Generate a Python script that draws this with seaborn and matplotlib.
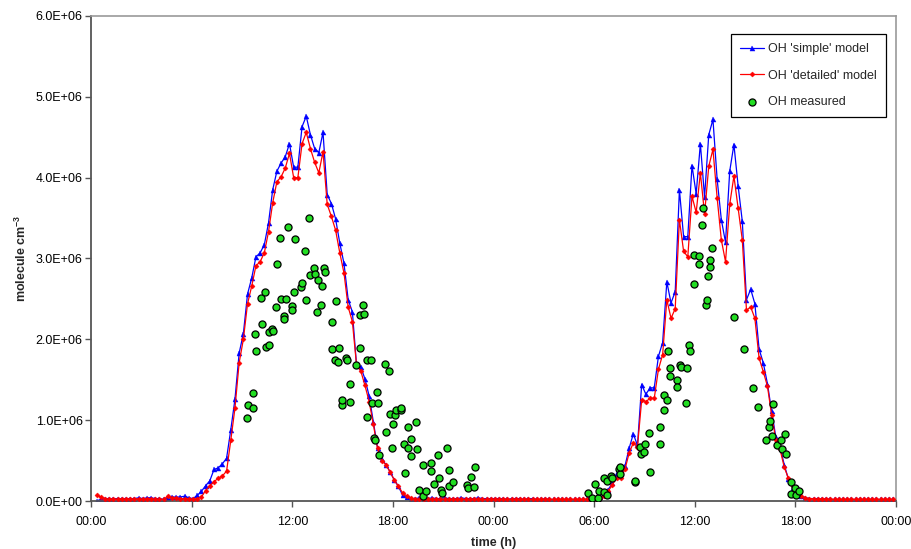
import numpy as np
import matplotlib
matplotlib.use("Agg")
import matplotlib.pyplot as plt
import seaborn as sns
from matplotlib.ticker import FuncFormatter, FixedLocator

# ---------------- data (OH, units of 1e6 molecule cm-3) ----------------
# model output every 15 min, first sample at 00:20 of day 1
model_start_h = 0.333
model_step_h = 0.25

simple_model = [
    0.00, 0.02, 0.03, 0.03, 0.03, 0.03, 0.03, 0.03, 0.03, 0.03,
    0.04, 0.03, 0.04, 0.04, 0.03, 0.03, 0.02, 0.04, 0.05, 0.05,
    0.05, 0.06, 0.04, 0.03, 0.07, 0.12, 0.19, 0.25, 0.39, 0.41,
    0.46, 0.53, 0.88, 1.26, 1.83, 2.07, 2.56, 2.76, 3.02, 3.07,
    3.17, 3.44, 3.85, 4.08, 4.18, 4.26, 4.42, 4.13, 4.13, 4.63,
    4.76, 4.53, 4.36, 4.31, 4.56, 3.79, 3.68, 3.49, 3.19, 2.94,
    2.49, 2.34, 1.68, 1.66, 1.51, 1.30, 0.98, 0.66, 0.52, 0.45,
    0.36, 0.26, 0.18, 0.07, 0.05, 0.03, 0.03, 0.04, 0.03, 0.03,
    0.04, 0.03, 0.03, 0.04, 0.03, 0.03, 0.03, 0.04, 0.03, 0.03,
    0.03, 0.04, 0.03, 0.03, 0.03, 0.03, 0.03, 0.03, 0.02, 0.03,
    0.03, 0.03, 0.02, 0.03, 0.03, 0.02, 0.02, 0.03, 0.02, 0.02,
    0.02, 0.02, 0.02, 0.02, 0.02, 0.02, 0.02, 0.02, 0.01, 0.01,
    0.05, 0.07, 0.14, 0.22, 0.34, 0.38, 0.43, 0.65, 0.83, 0.69,
    1.44, 1.32, 1.40, 1.40, 1.79, 1.96, 2.71, 2.45, 2.59, 3.85,
    3.27, 3.27, 4.15, 3.80, 4.42, 3.76, 4.53, 4.72, 3.98, 3.48,
    3.20, 4.08, 4.41, 3.90, 3.46, 2.49, 2.62, 2.44, 1.88, 1.71,
    1.45, 1.11, 0.79, 0.67, 0.45, 0.27, 0.16, 0.11, 0.06, 0.04,
    0.03, 0.03, 0.03, 0.02, 0.03, 0.02, 0.02, 0.02, 0.02, 0.02,
    0.02, 0.02, 0.02, 0.02, 0.02, 0.02, 0.02, 0.02, 0.02, 0.02, 0.02,
]

detailed_model = [
    0.07, 0.05, 0.03, 0.02, 0.03, 0.02, 0.03, 0.02, 0.03, 0.02,
    0.03, 0.02, 0.03, 0.03, 0.02, 0.02, 0.02, 0.06, 0.04, 0.04,
    0.03, 0.03, 0.03, 0.02, 0.03, 0.05, 0.13, 0.19, 0.24, 0.28,
    0.31, 0.37, 0.75, 1.15, 1.71, 2.00, 2.44, 2.66, 2.91, 2.96,
    3.07, 3.33, 3.69, 3.95, 4.01, 4.12, 4.30, 4.00, 4.00, 4.42,
    4.56, 4.36, 4.19, 4.06, 4.32, 3.67, 3.52, 3.35, 3.07, 2.82,
    2.40, 2.22, 1.68, 1.61, 1.43, 1.23, 0.95, 0.65, 0.50, 0.45,
    0.36, 0.26, 0.18, 0.10, 0.06, 0.04, 0.02, 0.02, 0.02, 0.02,
    0.02, 0.02, 0.02, 0.02, 0.02, 0.02, 0.02, 0.02, 0.02, 0.02,
    0.02, 0.02, 0.02, 0.02, 0.02, 0.02, 0.02, 0.02, 0.02, 0.02,
    0.02, 0.02, 0.02, 0.02, 0.02, 0.02, 0.02, 0.02, 0.02, 0.02,
    0.02, 0.02, 0.02, 0.02, 0.02, 0.02, 0.02, 0.02, 0.02, 0.02,
    0.04, 0.06, 0.12, 0.20, 0.28, 0.29, 0.39, 0.59, 0.72, 0.67,
    1.25, 1.23, 1.27, 1.27, 1.63, 1.81, 2.49, 2.26, 2.38, 3.48,
    3.09, 3.02, 3.77, 3.57, 4.06, 3.55, 4.14, 4.35, 3.75, 3.23,
    2.96, 3.67, 4.02, 3.62, 3.23, 2.36, 2.40, 2.26, 1.77, 1.60,
    1.42, 1.06, 0.76, 0.64, 0.42, 0.28, 0.18, 0.12, 0.06, 0.04,
    0.03, 0.03, 0.02, 0.03, 0.02, 0.02, 0.02, 0.02, 0.02, 0.02,
    0.02, 0.02, 0.02, 0.02, 0.02, 0.02, 0.02, 0.02, 0.02, 0.02, 0.02,
]

# measured OH: time in hours since 00:00 of day 1, value in 1e6
measured_time = [
    9.28, 9.34, 9.64, 9.68, 9.80, 9.86, 10.14, 10.20, 10.38, 10.44,
    10.60, 10.64, 10.80, 10.84, 11.04, 11.10, 11.26, 11.30, 11.48, 11.52,
    11.64, 11.74, 11.97, 12.00, 12.13, 12.18, 12.53, 12.59, 12.75, 12.79,
    12.99, 13.03, 13.29, 13.33, 13.49, 13.53, 13.73, 13.77, 13.91, 13.93,
    14.36, 14.37, 14.53, 14.58, 14.74, 14.77, 14.95, 14.98, 15.22, 15.28,
    15.42, 15.46, 15.82, 16.04, 16.06, 16.22, 16.27, 16.44, 16.48, 16.70,
    16.74, 16.88, 16.94, 17.08, 17.12, 17.17, 17.51, 17.57, 17.75, 17.81,
    17.93, 18.01, 18.15, 18.21, 18.47, 18.51, 18.69, 18.71, 18.89, 18.93,
    19.05, 19.07, 19.37, 19.41, 19.56, 19.77, 19.78, 20.00, 20.26, 20.30,
    20.44, 20.68, 20.72, 20.86, 20.92, 21.20, 21.34, 21.36, 21.56, 22.43,
    22.49, 22.64, 22.85, 22.89,
    29.61, 29.87, 30.07, 30.20, 30.26, 30.56, 30.60, 30.76, 30.78, 31.00,
    31.06, 31.46, 31.52, 31.56, 32.42, 32.46, 32.75, 32.81, 32.95, 33.05,
    33.29, 33.31, 33.91, 33.95, 34.15, 34.15, 34.35, 34.39, 34.51, 34.55,
    34.91, 34.91, 35.10, 35.19, 35.49, 35.55, 35.68, 35.70, 35.98, 35.98,
    36.26, 36.28, 36.44, 36.48, 36.65, 36.72, 36.81, 36.88, 36.92, 37.00,
    38.36, 38.95, 39.49, 39.75, 40.23, 40.42, 40.47, 40.63, 40.66, 40.93,
    41.12, 41.18, 41.38, 41.42, 41.72, 41.76, 41.98, 42.06, 42.22,
]

measured_value = [
    1.03, 1.19, 1.33, 1.15, 2.07, 1.85, 2.51, 2.19, 2.59, 1.90,
    2.09, 1.93, 2.13, 2.10, 2.40, 2.93, 3.25, 2.50, 2.29, 2.25,
    2.50, 3.39, 2.41, 2.36, 2.58, 3.24, 2.65, 2.70, 3.09, 2.49,
    3.50, 2.80, 2.88, 2.81, 2.34, 2.74, 2.43, 2.66, 2.88, 2.83,
    2.22, 1.88, 1.75, 2.47, 1.72, 1.89, 1.19, 1.25, 1.77, 1.74,
    1.45, 1.23, 1.68, 1.89, 2.30, 2.43, 2.31, 1.04, 1.75, 1.75,
    1.21, 0.78, 0.75, 1.35, 1.21, 0.57, 1.70, 0.85, 1.61, 1.08,
    0.66, 0.95, 1.06, 1.13, 1.12, 1.15, 0.71, 0.35, 0.92, 0.66,
    0.77, 0.56, 0.98, 0.64, 0.14, 0.06, 0.45, 0.12, 0.47, 0.37,
    0.21, 0.57, 0.28, 0.14, 0.10, 0.66, 0.38, 0.18, 0.23, 0.20,
    0.16, 0.30, 0.17, 0.42,
    0.10, 0.04, 0.21, 0.04, 0.12, 0.29, 0.11, 0.25, 0.07, 0.31,
    0.28, 0.39, 0.34, 0.42, 0.23, 0.25, 0.67, 0.58, 0.61, 0.71,
    0.84, 0.36, 0.92, 0.71, 1.31, 1.13, 1.25, 1.86, 1.55, 1.64,
    1.50, 1.41, 1.68, 1.66, 1.21, 1.64, 1.93, 1.85, 2.68, 3.04,
    3.03, 2.93, 3.41, 3.63, 2.43, 2.49, 2.78, 2.90, 2.98, 3.13,
    2.28, 1.88, 1.40, 1.16, 0.75, 0.91, 0.99, 0.80, 1.20, 0.69,
    0.75, 0.64, 0.83, 0.58, 0.23, 0.09, 0.16, 0.07, 0.13,
]

x_ticks_h = [0, 6, 12, 18, 24, 30, 36, 42, 48]
y_ticks = [0, 1e6, 2e6, 3e6, 4e6, 5e6, 6e6]

# ---------------- plotting ----------------
sns.set_style("white")
plt.rcParams['font.family'] = ['Liberation Sans', 'DejaVu Sans']
plt.rcParams['mathtext.fontset'] = 'custom'
plt.rcParams['mathtext.rm'] = 'Liberation Sans'
plt.rcParams['mathtext.bf'] = 'Liberation Sans:bold'

fig, ax = plt.subplots(figsize=(9.12, 5.49), dpi=100)
fig.subplots_adjust(left=0.0998, right=0.9825, bottom=0.0874, top=0.9709)

simple = np.array(simple_model) * 1e6
detailed = np.array(detailed_model) * 1e6
model_time = model_start_h + model_step_h * np.arange(len(simple))
meas_t = np.array(measured_time)
meas_v = np.array(measured_value) * 1e6

sns.lineplot(x=model_time, y=simple, ax=ax, color='#0000FF', lw=0.9,
             marker='^', markersize=3.6, markeredgecolor='#0000FF',
             markerfacecolor='#0000FF', markeredgewidth=0.3,
             estimator=None, label="OH 'simple' model", zorder=2)
sns.lineplot(x=model_time, y=detailed, ax=ax, color='#FF0000', lw=0.9,
             marker='D', markersize=2.6, markeredgecolor='#FF0000',
             markerfacecolor='#FF0000', markeredgewidth=0.3,
             estimator=None, label="OH 'detailed' model", zorder=3)
sns.scatterplot(x=meas_t, y=meas_v, ax=ax, color='#22DD22', edgecolor='black',
                linewidth=0.9, s=26, label='OH measured', zorder=4)

ax.set_xlim(0, 48)
ax.set_ylim(0, 6e6)
ax.xaxis.set_major_locator(FixedLocator(x_ticks_h))
ax.xaxis.set_major_formatter(FuncFormatter(lambda h, p: f"{int(round(h)) % 24:02d}:00"))
ax.yaxis.set_major_locator(FixedLocator(y_ticks))
ax.yaxis.set_major_formatter(FuncFormatter(lambda v, p: f"{v:.1E}"))
ax.tick_params(axis='both', which='major', bottom=True, left=True, direction='out',
               length=4, width=1, color='#555555', labelsize=9, labelcolor='black')
ax.tick_params(axis='y', pad=2)
ax.tick_params(axis='x', pad=7)

ax.set_xlabel('time (h)', fontsize=9, fontweight='bold', labelpad=6)
ax.set_ylabel(r'molecule cm$^{\mathbf{-3}}$', fontsize=9, fontweight='bold', labelpad=5)

for side in ['left', 'bottom']:
    ax.spines[side].set_color('#555555')
    ax.spines[side].set_linewidth(1.3)
for side in ['top', 'right']:
    ax.spines[side].set_color('#999999')
    ax.spines[side].set_linewidth(1.2)

leg = ax.legend(loc='upper right', bbox_to_anchor=(0.988, 0.963), frameon=True,
                fancybox=False, edgecolor='black', framealpha=1, fontsize=9,
                handlelength=1.9, handletextpad=0.35, labelspacing=1.15,
                borderpad=0.75, borderaxespad=0)
leg.get_frame().set_linewidth(0.9)

fig.savefig('out.png', dpi=100)
